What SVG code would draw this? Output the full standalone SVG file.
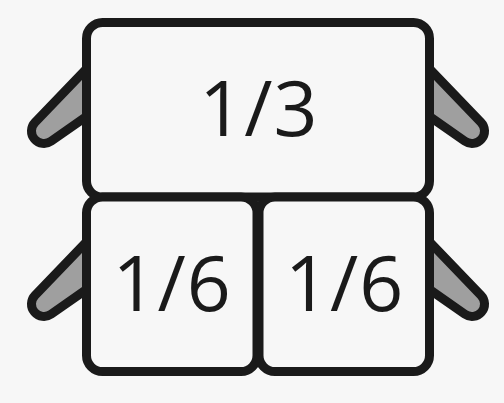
<svg xmlns="http://www.w3.org/2000/svg" width="504" height="403" viewBox="0 0 504 403">
  <style>
    .bg { fill: #f7f7f7; }
    .box { fill: #f7f7f7; stroke: #1a1a1a; stroke-width: 9; }
    .handle { fill: #9f9f9f; stroke: #1a1a1a; stroke-width: 9; stroke-linejoin: round; }
    .label { font-family: "Open Sans", "Liberation Sans", sans-serif; font-size: 77px; fill: #1a1a1a; text-anchor: middle; letter-spacing: 1px; }
  </style>
  <defs>
    <path id="handleL" class="handle" d="M 90,65.1 L 35,122.3 A 12.5 12.5 0 0 0 51.2,141.2 L 90,114 Z"/>
  </defs>
  <rect class="bg" x="0" y="0" width="504" height="403"/>
  <g id="handles">
    <use href="#handleL"/>
    <use href="#handleL" transform="translate(0,173)"/>
    <use href="#handleL" transform="translate(516,0) scale(-1,1)"/>
    <use href="#handleL" transform="translate(516,173) scale(-1,1)"/>
  </g>
  <g id="pan-1-3">
    <rect class="box" x="86.5" y="22.5" width="343" height="174.5" rx="16"/>
    <text class="label" x="258.8" y="136">1/3</text>
  </g>
  <g id="pan-1-6-left">
    <rect class="box" x="86.5" y="197" width="170.5" height="174.5" rx="16"/>
    <text class="label" x="172.2" y="311">1/6</text>
  </g>
  <g id="pan-1-6-right">
    <rect class="box" x="259" y="197" width="170.5" height="174.5" rx="16"/>
    <text class="label" x="344.7" y="311">1/6</text>
  </g>
</svg>
